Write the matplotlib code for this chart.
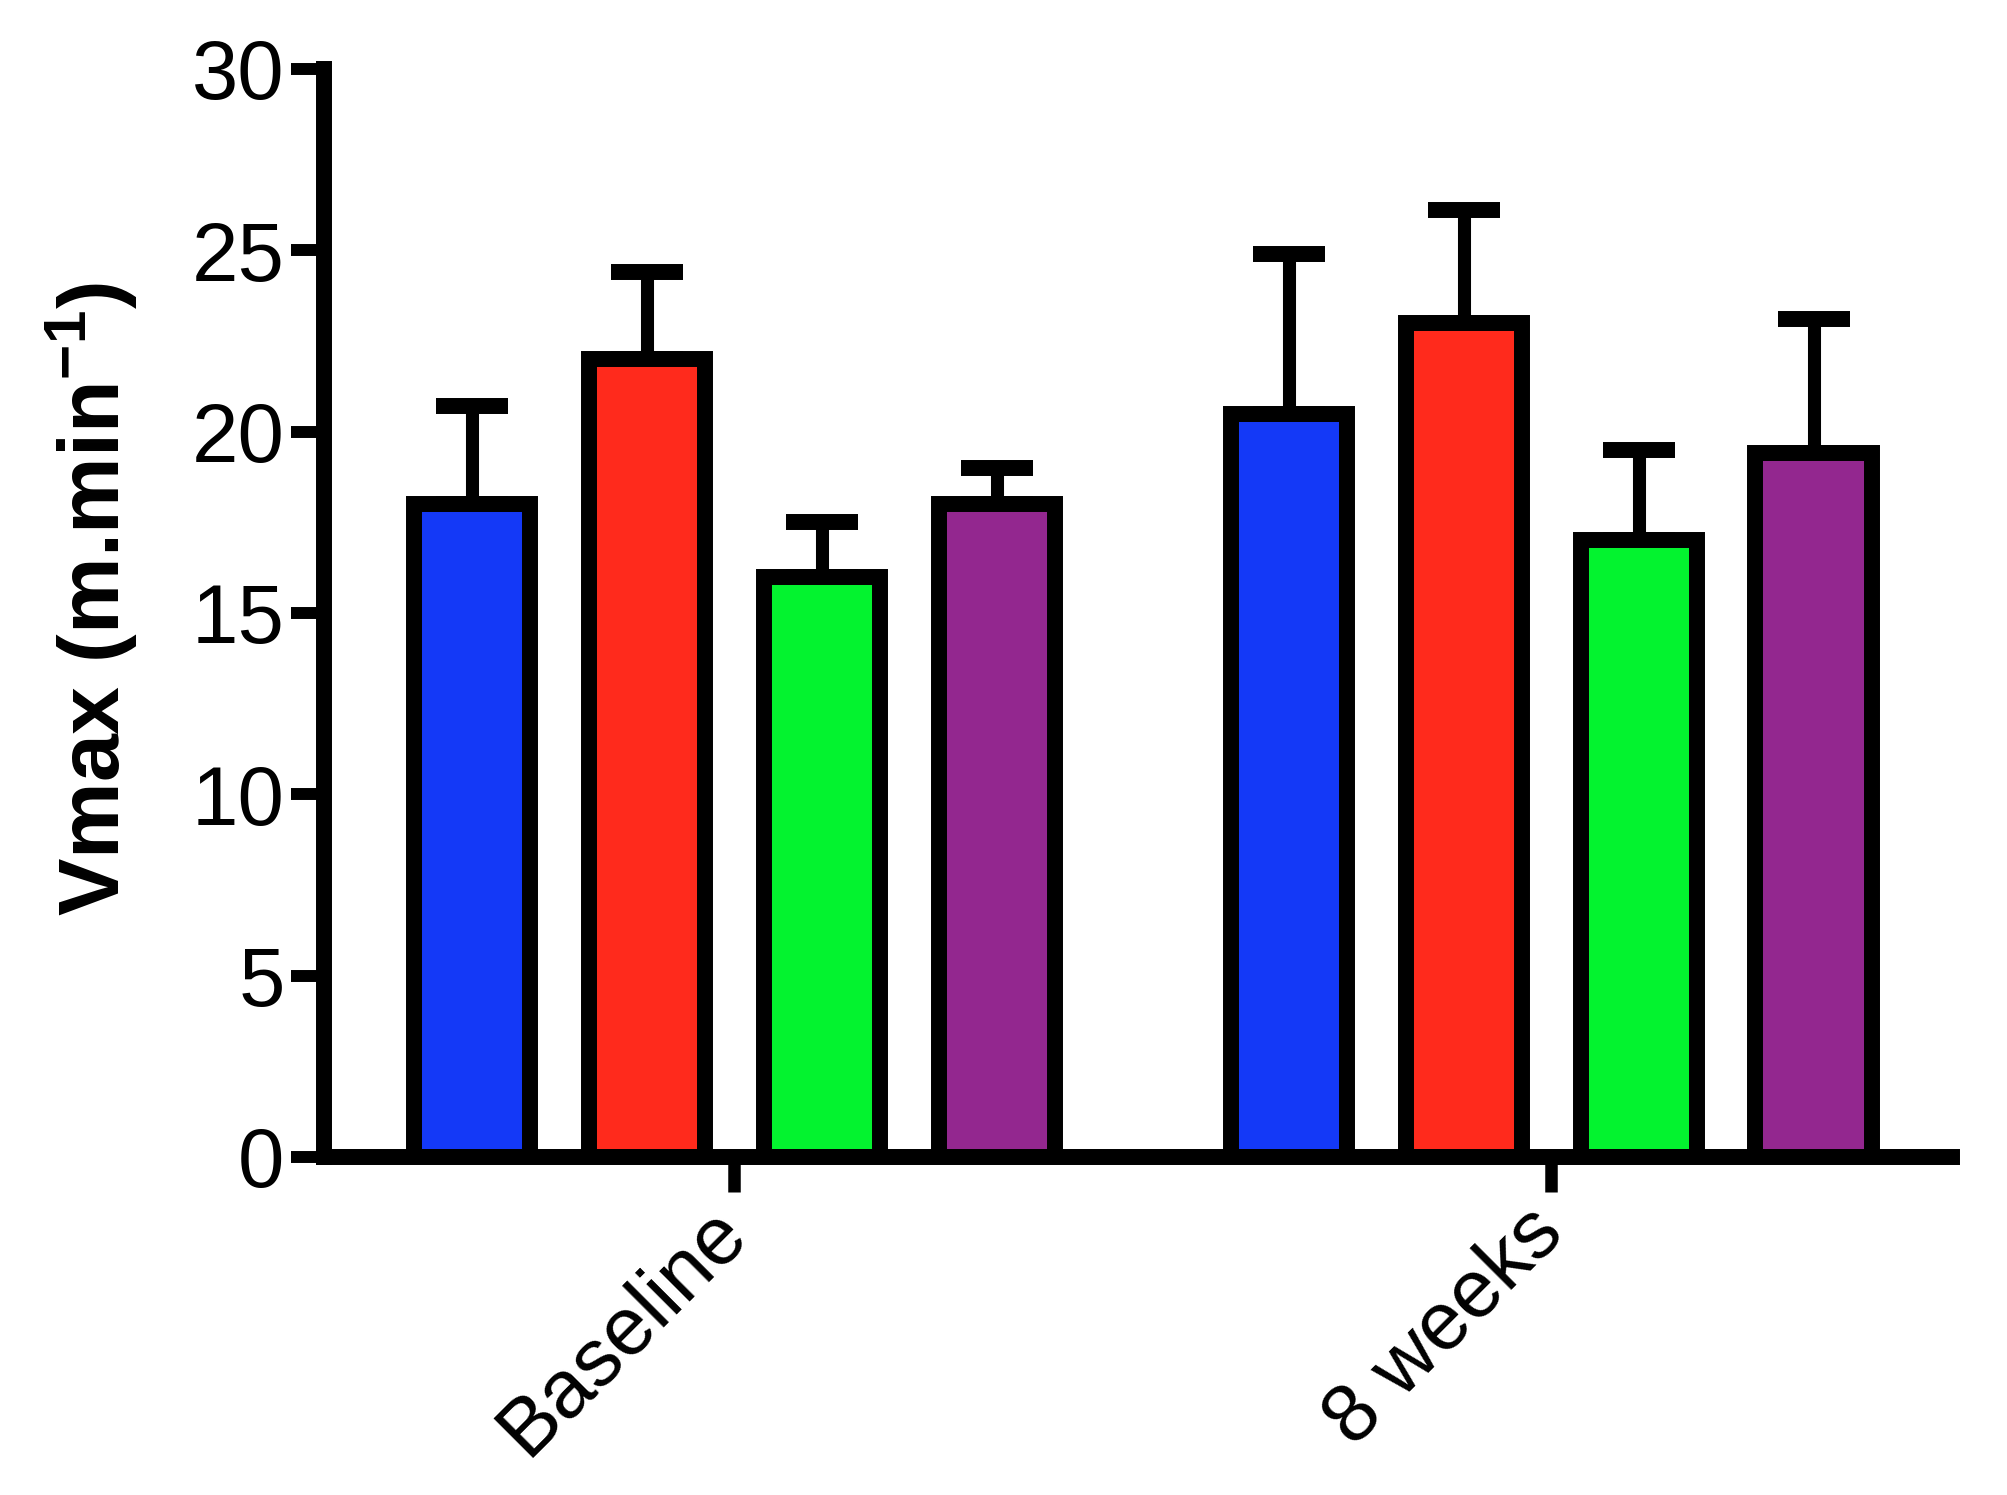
import numpy as np
from matplotlib import pyplot as plt

# data
groups = ['Baseline', '8 weeks']
colors = ['#1439F7', '#FF2A1C', '#03F32F', '#93278F']
baseline_mean = [18.0, 22.0, 16.0, 18.0]
baseline_sem = [2.7, 2.4, 1.5, 1.0]
week8_mean = [20.5, 23.0, 17.0, 19.4]
week8_sem = [4.4, 3.1, 2.5, 3.7]
yticks = [0, 5, 10, 15, 20, 25, 30]

plt.rcParams['font.family'] = ['Liberation Sans', 'DejaVu Sans']
plt.rcParams['mathtext.fontset'] = 'custom'
plt.rcParams['mathtext.rm'] = 'Liberation Sans:bold'
plt.rcParams['mathtext.bf'] = 'Liberation Sans:bold'

fig = plt.figure(figsize=(20.08, 14.95), dpi=100)
ax = fig.add_axes([0.1614, 0.2261, 0.9721 - 0.1614, 0.95385 - 0.2261])

step = 0.2142   # distance between bars inside a group
width = 0.142
means = [baseline_mean, week8_mean]
sems = [baseline_sem, week8_sem]
for g in range(len(groups)):
    xs = g + (np.arange(4) - 1.5) * step
    ax.errorbar(xs, means[g], yerr=[np.zeros(4), sems[g]], fmt='none',
                ecolor='black', elinewidth=9.4, capsize=26, capthick=11.5,
                zorder=1)
    ax.bar(xs, means[g], width=width, color=colors, edgecolor='black',
           linewidth=11.5, zorder=2)

ax.set_xlim(-0.5018, 1.4908)
ax.set_ylim(0, 30)
ax.set_yticks(yticks)
ax.set_yticklabels([str(t) for t in yticks], fontsize=60)
ax.set_xticks(range(len(groups)))
ax.set_xticklabels(groups, fontsize=59, rotation=45, ha='right',
                   va='center', rotation_mode='anchor')

for side in ['top', 'right']:
    ax.spines[side].set_visible(False)
for side in ['left', 'bottom']:
    ax.spines[side].set_linewidth(11.5)
    ax.spines[side].set_capstyle('projecting')
    ax.spines[side].set_zorder(3)

ax.tick_params(axis='y', direction='out', length=23.5, width=8.6, pad=5)
ax.tick_params(axis='x', direction='out', length=25, width=9, pad=21)

ax.set_ylabel(r'Vmax (m.min$^{-1}$)', fontsize=62, fontweight='bold',
              va='center')
ax.yaxis.set_label_coords(-0.1425, 0.513)

plt.savefig('out.png', dpi=100)
